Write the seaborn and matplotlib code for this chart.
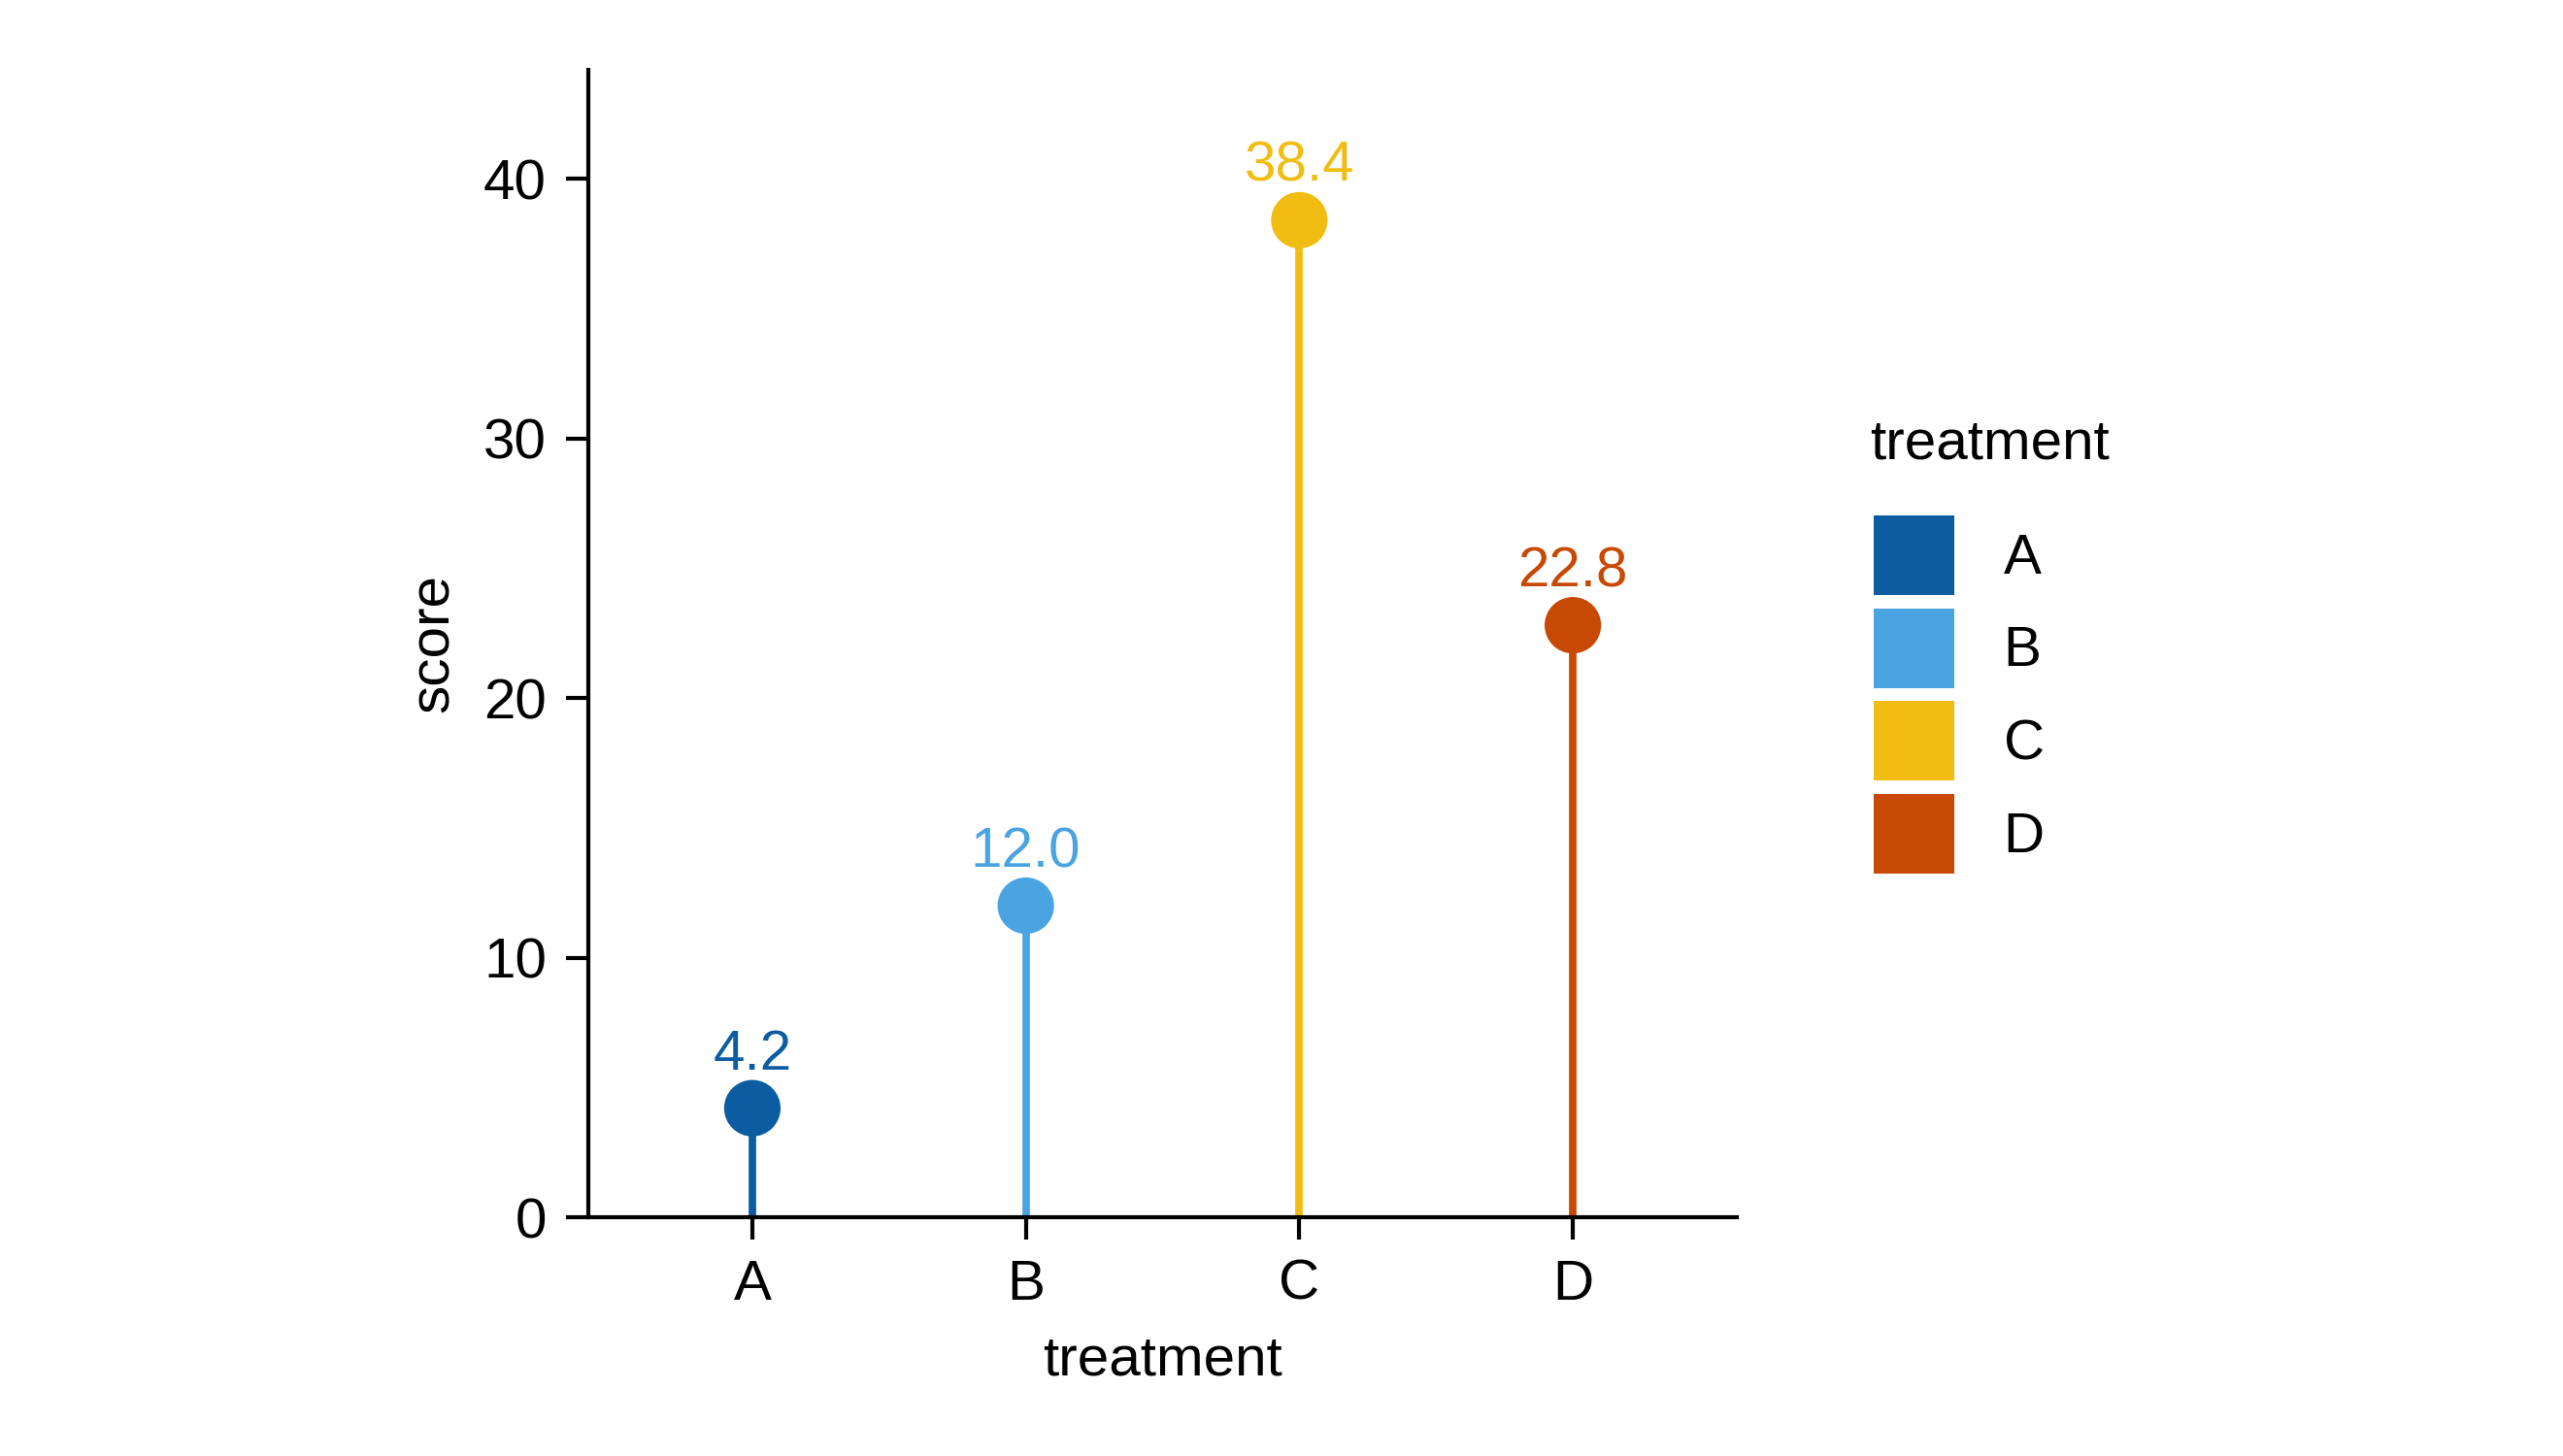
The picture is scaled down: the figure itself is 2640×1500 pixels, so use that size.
import pandas as pd
import numpy as np
import matplotlib.pyplot as plt
import seaborn as sns
from matplotlib.patches import Patch

treatment = ['A', 'B', 'C', 'D']
score = [4.2, 12.0, 38.4, 22.8]
colors = ['#0B5CA1', '#4AA4E2', '#F2BD13', '#C84904']

df = pd.DataFrame({'treatment': treatment, 'score': score})
pal = dict(zip(treatment, colors))
fs = 14

sns.set_theme(style='ticks')
plt.rcParams['font.family'] = ['Liberation Sans', 'DejaVu Sans']
plt.rcParams['text.color'] = 'black'
plt.rcParams['axes.labelcolor'] = 'black'

fig = plt.figure(figsize=(8.8, 5), dpi=300)
ax = fig.add_axes([0.2295, 0.164, 0.6777 - 0.2295, 0.952 - 0.164])

pos = np.arange(len(treatment))
ax.vlines(pos, 0, df['score'], colors=colors, linewidth=1.85, zorder=2)
sns.scatterplot(data=df, x='treatment', y='score', hue='treatment', palette=pal,
                s=195, linewidth=0, legend=False, zorder=3, ax=ax)

# value labels above each point
for i, (t, v) in enumerate(zip(treatment, score)):
    ax.annotate(f'{v:.1f}', (i, v), xytext=(0, 9.6), textcoords='offset points',
                ha='center', va='baseline', color=pal[t], fontsize=fs)

ax.set_xlim(-0.6, 3.6)
ax.set_ylim(0, 44.19)
ax.set_yticks([0, 10, 20, 30, 40])
ax.set_xlabel('treatment', fontsize=fs, labelpad=5.6)
ax.set_ylabel('score', fontsize=fs, labelpad=5.8)
ax.tick_params(axis='both', labelsize=fs, length=5.5, width=1, pad=4.8, colors='black')
for s in ['left', 'bottom']:
    ax.spines[s].set_linewidth(1)
    ax.spines[s].set_color('black')
sns.despine(ax=ax)

# legend
fig.text(0.7295, 0.6847, 'treatment', fontsize=fs, ha='left', va='baseline')
handles = [Patch(facecolor=c, edgecolor='none') for c in colors]
fig.legend(handles, treatment, loc='upper left',
           bbox_to_anchor=(0.7311, 0.646), frameon=False, fontsize=fs,
           handlelength=1.42, handleheight=1.79,
           labelspacing=0.23, handletextpad=0.87,
           borderpad=0, borderaxespad=0)

fig.savefig('out.png', dpi=300, facecolor='white')
